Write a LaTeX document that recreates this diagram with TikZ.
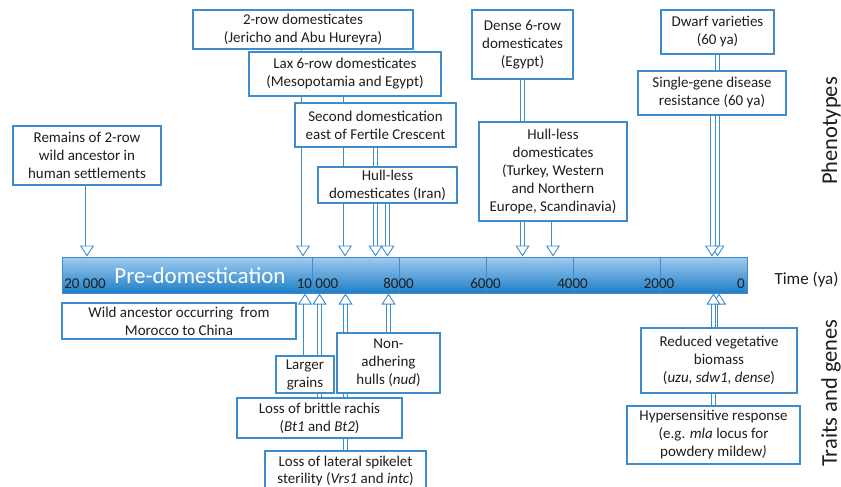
\documentclass[tikz,border=0pt]{standalone}
\usepackage{fontspec}
\setmainfont{Carlito}
\usetikzlibrary{arrows.meta,backgrounds}
\definecolor{tlblue}{RGB}{62,140,204}
\definecolor{bartop}{RGB}{160,203,238}
\definecolor{barbottom}{RGB}{30,127,200}
\definecolor{txtgray}{RGB}{30,30,30}

\begin{document}
\begin{tikzpicture}[x=1pt,y=-1pt,
	box/.style={draw=tlblue,fill=white,line width=1.2pt,align=center,inner sep=1pt,text=txtgray,font=\fontsize{15}{18}\selectfont},
	yr/.style={anchor=base,text=txtgray,font=\fontsize{15}{18}\selectfont},
	side/.style={rotate=90,text=txtgray,font=\fontsize{22.5}{26}\selectfont},
	blockarrow/.style={draw=tlblue,line width=0.9pt,double=white,double distance=3pt,-{Triangle[fill=white,length=11pt,width=14pt]}},
]
	\useasboundingbox (0,0) rectangle (841,487);
	% time bar
	\node[draw=tlblue,line width=1pt,top color=bartop,bottom color=barbottom,minimum width=685pt,minimum height=36pt,inner sep=0pt] (bar) at (404.5,275) {};
	\foreach \x in {312,399,486,573,660}
		\draw[tlblue,line width=1pt] ({\x},0 |- bar.north) -- ({\x},0 |- bar.south);
	\node[anchor=base,text=white,font=\fontsize{23}{26}\selectfont] (predom) at (200,283) {Pre-domestication};
	\node[yr] (y20) at (85,288) {20 000};
	\node[yr] (y10) at (317.5,288) {10 000};
	\node[yr] (y8) at (398.5,288) {8000};
	\node[yr] (y6) at (485.5,288) {6000};
	\node[yr] (y4) at (572.5,288) {4000};
	\node[yr] (y2) at (659,288) {2000};
	\node[yr] (y0) at (741,288) {0};
	\node[anchor=base west,text=txtgray,font=\fontsize{17}{20}\selectfont] (time) at (771,284) {Time (ya)};
	\node[side] (pheno) at (831,131) {Phenotypes};
	\node[side] (traits) at (831,393) {Traits and genes};

	% phenotypes
	\node[box,minimum width=148pt,minimum height=59pt] (remains) at (87,155.5) {Remains of 2-row\\wild ancestor in\\human settlements};
	\node[box,minimum width=220pt,minimum height=39pt] (tworow) at (303,29.5) {2-row domesticates\\(Jericho and Abu Hureyra)};
	\node[box,minimum width=192pt,minimum height=44pt] (laxrow) at (345,74) {Lax 6-row domesticates\\(Mesopotamia and Egypt)};
	\node[box,minimum width=161pt,minimum height=44pt] (second) at (375.5,125) {Second domestication\\east of Fertile Crescent};
	\node[box,minimum width=139pt,minimum height=36pt] (iran) at (387.5,185) {Hull-less\\domesticates (Iran)};
	\node[box,minimum width=101pt,minimum height=69pt] (dense) at (522.5,44.5) {Dense 6-row\\domesticates\\(Egypt)};
	\node[box,minimum width=148pt,minimum height=99pt] (hullless) at (553,171.5) {Hull-less\\domesticates\\(Turkey, Western\\and Northern\\Europe, Scandinavia)};
	\node[box,minimum width=113pt,minimum height=44pt] (dwarf) at (717.5,32) {Dwarf varieties\\(60 ya)};
	\node[box,minimum width=148pt,minimum height=44pt] (single) at (712,93) {Single-gene disease\\resistance (60 ya)};

	% traits and genes
	\node[box,minimum width=234pt,minimum height=36pt] (wild) at (179,321) {Wild ancestor occurring\ \ from\\Morocco to China};
	\node[box,minimum width=58pt,minimum height=37pt] (larger) at (305,374.5) {Larger\\grains};
	\node[box,minimum width=165pt,minimum height=40pt] (rachis) at (319.5,418) {Loss of brittle rachis\\(\textit{Bt1} and \textit{Bt2})};
	\node[box,minimum width=103pt,minimum height=60pt] (nonadh) at (388.5,363) {Non-\\adhering\\hulls (\textit{nud})};
	\node[box,minimum width=161pt,minimum height=40pt,font=\fontsize{15}{17.5}\selectfont] (spikelet) at (345.5,471) {Loss of lateral spikelet\\sterility (\textit{Vrs1} and \textit{intc})};
	\node[box,minimum width=156pt,minimum height=65pt] (reduced) at (719,360.5) {Reduced vegetative\\biomass\\(\textit{uzu, sdw1, dense})};
	\node[box,minimum width=173pt,minimum height=58pt] (hyper) at (713.5,435) {Hypersensitive response\\(e.g. \textit{mla} locus for\\powdery mildew\textit{)}};

	\begin{pgfonlayer}{background}
		\foreach \b in {remains,tworow,laxrow,second,iran,dense,hullless,dwarf,single}
			\draw[blockarrow] (\b.south) -- (\b.south |- bar.north);
		\foreach \b in {larger,rachis,nonadh,spikelet,reduced,hyper}
			\draw[blockarrow] (\b.north) -- (\b.north |- bar.south);
	\end{pgfonlayer}
\end{tikzpicture}
\end{document}
